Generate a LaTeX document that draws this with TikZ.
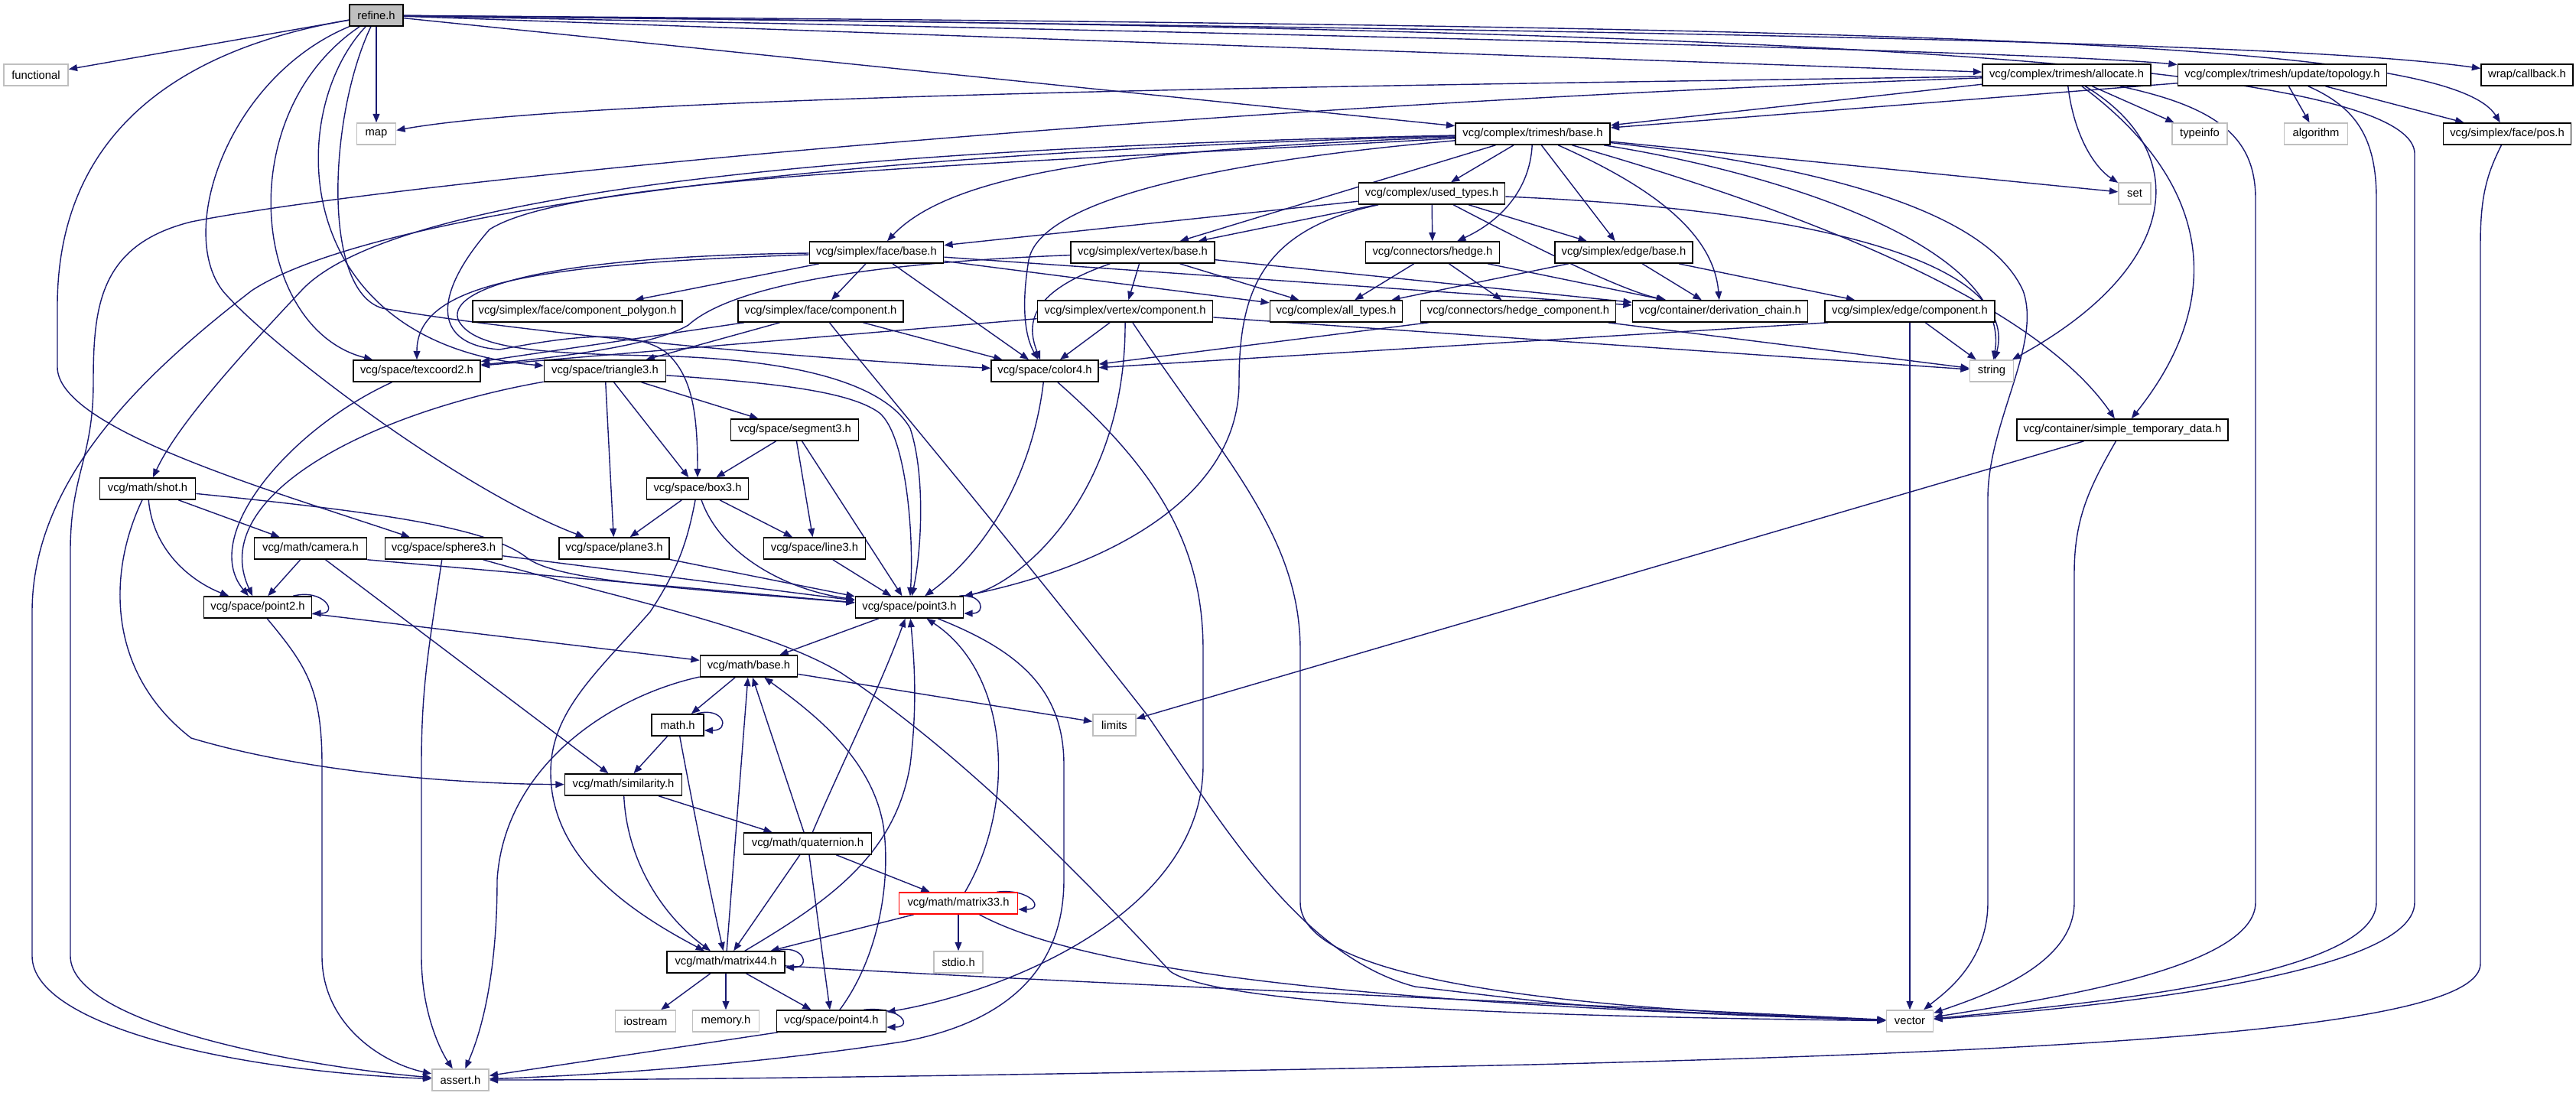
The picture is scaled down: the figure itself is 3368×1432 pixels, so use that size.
\documentclass[tikz,border=0pt]{standalone}
\usepackage{fontspec}
\setmainfont{Liberation Sans}
\usetikzlibrary{arrows.meta}
\pgfdeclarelayer{bg}
\pgfsetlayers{bg,main}
\definecolor{edgec}{HTML}{191970}
\definecolor{grayb}{HTML}{BFBFBF}
\begin{document}
\begin{tikzpicture}[x=0.01cm,y=-0.01cm,
  box/.style={draw=black,line width=0.45pt,rectangle,inner sep=0pt,minimum height=0.28cm,fill=white,font=\fontsize{4.2pt}{5pt}\selectfont},
  sys/.style={box,draw=grayb},
  e/.style={draw=edgec,line width=0.4pt,-{Triangle[length=3.2pt,width=2.5pt]}}]
\useasboundingbox (0,0) rectangle (3368,1432);
% nodes
\node[box,fill=grayb,minimum width=0.70cm] (refine) at (492,20) {refine.h};
\node[sys,minimum width=0.84cm] (functional) at (47,98) {functional};
\node[box,minimum width=2.20cm] (allocate) at (2702,98) {vcg/complex/trimesh/allocate.h};
\node[box,minimum width=2.73cm] (topology) at (2984,98) {vcg/complex/trimesh/update/topology.h};
\node[box,minimum width=1.20cm] (callback) at (3304,98) {wrap/callback.h};
\node[sys,minimum width=0.51cm] (map) at (492,175) {map};
\node[box,minimum width=2.02cm] (tbase) at (2004,175) {vcg/complex/trimesh/base.h};
\node[sys,minimum width=0.72cm] (typeinfo) at (2876,175) {typeinfo};
\node[sys,minimum width=0.83cm] (algorithm) at (3028,175) {algorithm};
\node[box,minimum width=1.67cm] (facepos) at (3278,175) {vcg/simplex/face/pos.h};
\node[box,minimum width=1.91cm] (usedtypes) at (1872,253) {vcg/complex/used\_types.h};
\node[sys,minimum width=0.42cm] (set) at (2791,253) {set};
\node[box,minimum width=1.75cm] (facebase) at (1146,330) {vcg/simplex/face/base.h};
\node[box,minimum width=1.88cm] (vertexbase) at (1494,330) {vcg/simplex/vertex/base.h};
\node[box,minimum width=1.75cm] (hedge) at (1873,330) {vcg/connectors/hedge.h};
\node[box,minimum width=1.80cm] (edgebase) at (2123,330) {vcg/simplex/edge/base.h};
\node[box,minimum width=2.74cm] (comppoly) at (755,407) {vcg/simplex/face/component\_polygon.h};
\node[box,minimum width=2.16cm] (facecomp) at (1073,407) {vcg/simplex/face/component.h};
\node[box,minimum width=2.29cm] (vertexcomp) at (1471,407) {vcg/simplex/vertex/component.h};
\node[box,minimum width=1.73cm] (alltypes) at (1747,407) {vcg/complex/all\_types.h};
\node[box,minimum width=2.55cm] (hedgecomp) at (1985,407) {vcg/connectors/hedge\_component.h};
\node[box,minimum width=2.29cm] (derivchain) at (2249,407) {vcg/container/derivation\_chain.h};
\node[box,minimum width=2.22cm] (edgecomp) at (2497,407) {vcg/simplex/edge/component.h};
\node[box,minimum width=1.66cm] (texcoord) at (545,485) {vcg/space/texcoord2.h};
\node[box,minimum width=1.59cm] (triangle) at (791,485) {vcg/space/triangle3.h};
\node[box,minimum width=1.40cm] (color) at (1366,485) {vcg/space/color4.h};
\node[sys,minimum width=0.57cm] (string) at (2604,485) {string};
\node[box,minimum width=1.67cm] (segment) at (1039,562) {vcg/space/segment3.h};
\node[box,minimum width=2.76cm] (simpletemp) at (2775,562) {vcg/container/simple\_temporary\_data.h};
\node[box,minimum width=1.25cm] (shot) at (193,639) {vcg/math/shot.h};
\node[box,minimum width=1.33cm] (nbox) at (912,639) {vcg/space/box3.h};
\node[box,minimum width=1.47cm] (camera) at (406,717) {vcg/math/camera.h};
\node[box,minimum width=1.53cm] (sphere) at (580,717) {vcg/space/sphere3.h};
\node[box,minimum width=1.44cm] (plane) at (803,717) {vcg/space/plane3.h};
\node[box,minimum width=1.33cm] (nline) at (1065,717) {vcg/space/line3.h};
\node[box,minimum width=1.41cm] (point2) at (337,794) {vcg/space/point2.h};
\node[box,minimum width=1.41cm] (point3) at (1189,794) {vcg/space/point3.h};
\node[box,minimum width=1.27cm] (mathbase) at (979,871) {vcg/math/base.h};
\node[box,minimum width=0.68cm] (mathh) at (886,948) {math.h};
\node[sys,minimum width=0.56cm] (limits) at (1457,948) {limits};
\node[box,minimum width=1.53cm] (similarity) at (815,1026) {vcg/math/similarity.h};
\node[box,minimum width=1.67cm] (quaternion) at (1056,1103) {vcg/math/quaternion.h};
\node[box,draw=red,minimum width=1.55cm] (matrix33) at (1253,1181) {vcg/math/matrix33.h};
\node[sys,minimum width=0.64cm] (stdio) at (1253,1258) {stdio.h};
\node[box,minimum width=1.54cm] (matrix44) at (949,1258) {vcg/math/matrix44.h};
\node[sys,minimum width=0.79cm] (iostream) at (844,1335) {iostream};
\node[sys,minimum width=0.87cm] (memory) at (949,1335) {memory.h};
\node[box,minimum width=1.43cm] (point4) at (1087,1335) {vcg/space/point4.h};
\node[sys,minimum width=0.61cm] (vector) at (2497,1335) {vector};
\node[sys,minimum width=0.74cm] (assert) at (602,1412) {assert.h};
\begin{pgfonlayer}{bg}
% refine.h
\draw[e] (refine) -- (functional);
\draw[e] (refine) -- (map);
\draw[e] (refine) -- (allocate);
\draw[e] (refine) .. controls (2000,50) and (2700,70) .. (topology);
\draw[e] (refine) .. controls (2200,40) and (3000,55) .. (callback);
\draw[e] (refine) .. controls (2500,35) and (3200,50) .. (facepos);
\draw[e] (refine) .. controls (2000,35) and (3150,60) .. (3157,200) -- (3157,1180) .. controls (3157,1280) and (2700,1320) .. (vector);
\draw[e] (refine) -- (tbase);
\draw[e] (refine) .. controls (300,150) and (330,430) .. (texcoord);
\draw[e] (refine) .. controls (370,150) and (380,450) .. (triangle);
\draw[e] (refine) .. controls (430,150) and (420,380) .. (500,403) .. controls (650,430) and (1000,466) .. (color);
\draw[e] (refine) .. controls (300,100) and (230,300) .. (291,380) .. controls (350,450) and (600,640) .. (plane);
\draw[e] (refine) .. controls (200,70) and (75,200) .. (75,400) -- (75,480) .. controls (75,560) and (350,640) .. (sphere);
% allocate.h
\draw[e] (allocate) .. controls (2000,110) and (800,120) .. (map);
\draw[e] (allocate) .. controls (1500,140) and (500,240) .. (250,290) .. controls (130,320) and (122,400) .. (122,500) .. controls (122,600) and (92,620) .. (92,720) -- (92,1250) .. controls (92,1340) and (400,1395) .. (assert);
\draw[e] (allocate) -- (tbase);
\draw[e] (allocate) .. controls (2712,180) and (2740,220) .. (set);
\draw[e] (allocate) .. controls (2870,200) and (2850,350) .. (string);
\draw[e] (allocate) -- (typeinfo);
\draw[e] (allocate) .. controls (2880,230) and (2920,380) .. (simpletemp);
\draw[e] (allocate) .. controls (2900,140) and (2949,180) .. (2949,260) -- (2949,1180) .. controls (2949,1270) and (2650,1310) .. (vector);
% topology.h
\draw[e] (topology) -- (tbase);
\draw[e] (topology) -- (algorithm);
\draw[e] (topology) -- (facepos);
\draw[e] (topology) .. controls (3080,140) and (3107,180) .. (3107,260) -- (3107,1180) .. controls (3107,1280) and (2700,1315) .. (vector);
% face/pos.h
\draw[e] (facepos) .. controls (3250,230) and (3243,260) .. (3243,320) -- (3243,1260) .. controls (3243,1340) and (2800,1372) .. (2000,1392) .. controls (1400,1405) and (900,1412) .. (assert);
% trimesh/base.h
\draw[e] (tbase) .. controls (1500,195) and (1250,220) .. (facebase);
\draw[e] (tbase) .. controls (1300,215) and (750,230) .. (640,300) .. controls (570,380) and (560,450) .. (653,457) .. controls (720,445) and (820,425) .. (870,460) .. controls (905,490) and (912,540) .. (nbox);
\draw[e] (tbase) -- (usedtypes);
\draw[e] (tbase) -- (vertexbase);
\draw[e] (tbase) .. controls (2000,250) and (1960,290) .. (hedge);
\draw[e] (tbase) -- (edgebase);
\draw[e] (tbase) .. controls (2150,240) and (2240,300) .. (derivchain);
\draw[e] (tbase) .. controls (1600,210) and (1360,260) .. (1345,340) .. controls (1335,400) and (1340,440) .. (color);
\draw[e] (tbase) -- (set);
\draw[e] (tbase) .. controls (2400,220) and (2600,280) .. (2645,380) .. controls (2670,450) and (2600,550) .. (2599,650) -- (2599,1180) .. controls (2599,1260) and (2540,1300) .. (vector);
\draw[e] (tbase) .. controls (2350,230) and (2630,330) .. (string);
\draw[e] (tbase) .. controls (2300,260) and (2650,380) .. (simpletemp);
\draw[e] (tbase) .. controls (1000,195) and (500,265) .. (394,380) .. controls (300,480) and (230,560) .. (shot);
\draw[e] (tbase) .. controls (900,205) and (450,300) .. (329,380) .. controls (200,480) and (42,620) .. (42,800) -- (42,1250) .. controls (42,1340) and (300,1400) .. (assert);
% used_types.h
\draw[e] (usedtypes) -- (facebase);
\draw[e] (usedtypes) -- (vertexbase);
\draw[e] (usedtypes) -- (hedge);
\draw[e] (usedtypes) -- (edgebase);
\draw[e] (usedtypes) .. controls (2000,320) and (2120,380) .. (derivchain);
\draw[e] (usedtypes) .. controls (2400,275) and (2640,350) .. (string);
\draw[e] (usedtypes) .. controls (1650,300) and (1620,380) .. (1620,500) .. controls (1620,650) and (1450,740) .. (point3);
% face/base.h
\draw[e] (facebase) .. controls (700,345) and (545,370) .. (texcoord);
\draw[e] (facebase) -- (comppoly);
\draw[e] (facebase) -- (facecomp);
\draw[e] (facebase) -- (color);
\draw[e] (facebase) -- (alltypes);
\draw[e] (facebase) -- (derivchain);
\draw[e] (facebase) .. controls (700,335) and (580,380) .. (600,420) .. controls (620,455) and (700,462) .. (850,465) .. controls (1000,468) and (1150,490) .. (1190,560) .. controls (1210,620) and (1205,720) .. (point3);
% vertex/base.h
\draw[e] (vertexbase) .. controls (1100,345) and (950,380) .. (900,425) .. controls (850,455) and (700,470) .. (texcoord);
\draw[e] (vertexbase) .. controls (1350,380) and (1340,420) .. (color);
\draw[e] (vertexbase) -- (vertexcomp);
\draw[e] (vertexbase) -- (alltypes);
\draw[e] (vertexbase) -- (derivchain);
% hedge.h
\draw[e] (hedge) -- (alltypes);
\draw[e] (hedge) -- (hedgecomp);
\draw[e] (hedge) -- (derivchain);
% edge/base.h
\draw[e] (edgebase) -- (alltypes);
\draw[e] (edgebase) -- (derivchain);
\draw[e] (edgebase) -- (edgecomp);
% face/component.h
\draw[e] (facecomp) -- (texcoord);
\draw[e] (facecomp) -- (triangle);
\draw[e] (facecomp) -- (color);
\draw[e] (facecomp) .. controls (1130,480) and (1300,680) .. (1500,935) .. controls (1600,1080) and (1700,1250) .. (1850,1290) .. controls (2100,1320) .. (vector);
% vertex/component.h
\draw[e] (vertexcomp) -- (texcoord);
\draw[e] (vertexcomp) -- (color);
\draw[e] (vertexcomp) .. controls (1472,650) and (1330,765) .. (point3);
\draw[e] (vertexcomp) .. controls (1600,600) and (1700,700) .. (1700,850) -- (1700,1180) .. controls (1700,1290) and (2100,1320) .. (vector);
\draw[e] (vertexcomp) -- (string);
% hedge_component.h
\draw[e] (hedgecomp) -- (color);
\draw[e] (hedgecomp) -- (string);
% edge/component.h
\draw[e] ([xshift=0.05cm]edgecomp.south west) -- (color);
\draw[e] (edgecomp) -- (string);
\draw[e] (edgecomp) -- (vector);
% texcoord2.h, triangle3.h, segment3.h
\draw[e] (texcoord) .. controls (380,560) and (260,700) .. (point2);
\draw[e] (triangle) .. controls (480,540) and (270,650) .. (point2);
\draw[e] (triangle) -- (segment);
\draw[e] (triangle) -- (nbox);
\draw[e] (triangle) -- (plane);
\draw[e] (triangle) .. controls (1000,500) and (1110,510) .. (1150,540) .. controls (1185,570) and (1195,700) .. (point3);
\draw[e] (segment) -- (nbox);
\draw[e] (segment) -- (nline);
\draw[e] (segment) -- (point3);
% shot.h
\draw[e] (shot) -- (camera);
\draw[e] (shot) .. controls (200,720) and (250,760) .. (point2);
\draw[e] (shot) .. controls (500,670) and (640,690) .. (690,730) .. controls (730,760) and (900,770) .. (point3);
\draw[e] (shot) .. controls (140,750) and (140,880) .. (250,965) .. controls (400,1010) and (600,1025) .. (similarity);
% camera.h
\draw[e] (camera) -- (point2);
\draw[e] (camera) -- (similarity);
\draw[e] (camera.south east) -- (point3);
% sphere3.h
\draw[e] (sphere) -- (point3);
\draw[e] (sphere) .. controls (560,850) and (551,900) .. (551,1000) -- (551,1250) .. controls (551,1330) and (580,1380) .. (assert);
\draw[e] (sphere) .. controls (800,780) and (1000,820) .. (1100,880) .. controls (1250,980) and (1400,1130) .. (1530,1270) .. controls (1600,1320) and (2100,1330) .. (vector);
% plane3.h, box3.h, line3.h
\draw[e] (plane) -- (point3);
\draw[e] (nbox) -- (plane);
\draw[e] (nbox) -- (nline);
\draw[e] (nbox) .. controls (940,720) and (1020,770) .. (point3);
\draw[e] (nbox) .. controls (900,700) and (890,740) .. (850,800) .. controls (780,880) and (720,930) .. (720,1010) .. controls (720,1120) and (820,1190) .. (matrix44);
\draw[e] (nline) -- (point3);
% point2.h
\draw[e] ([xshift=-0.25cm]point2.north east) .. controls +(40,-10) and +(35,0) .. ([yshift=-0.08cm]point2.east);
\draw[e] (point2) -- (mathbase);
\draw[e] (point2) .. controls (400,870) and (421,900) .. (421,1000) -- (421,1250) .. controls (421,1340) and (500,1390) .. (assert);
% point3.h
\draw[e] ([xshift=-0.06cm]point3.north east) .. controls +(30,-4) and +(30,0) .. ([yshift=-0.08cm]point3.east);
\draw[e] (point3) -- (mathbase);
\draw[e] (point3) .. controls (1330,850) and (1391,900) .. (1391,1000) -- (1391,1150) .. controls (1391,1280) and (1300,1340) .. (1180,1362) .. controls (1000,1390) and (800,1405) .. (assert);
% math/base.h
\draw[e] (mathbase) -- (mathh);
\draw[e] (mathbase) -- (limits);
\draw[e] (mathbase) .. controls (800,910) and (660,1000) .. (650,1150) .. controls (650,1300) and (620,1370) .. (assert);
% math.h
\draw[e] ([xshift=-0.1cm]mathh.north east) .. controls +(35,-10) and +(35,0) .. ([yshift=-0.07cm]mathh.east);
\draw[e] (mathh) -- (similarity);
\draw[e] (mathh) .. controls (905,1050) and (925,1150) .. (matrix44);
% similarity.h
\draw[e] (similarity) .. controls (820,1130) and (870,1200) .. (matrix44);
\draw[e] (similarity) -- (quaternion);
% quaternion.h
\draw[e] (quaternion) -- (mathbase);
\draw[e] (quaternion) .. controls (1100,1000) and (1150,900) .. (point3);
\draw[e] (quaternion) -- (matrix44);
\draw[e] (quaternion) -- (point4);
\draw[e] (quaternion) -- (matrix33);
% matrix33.h
\draw[e] ([xshift=-0.28cm]matrix33.north east) .. controls +(45,-5) and +(35,0) .. ([yshift=-0.08cm]matrix33.east);
\draw[e] (matrix33) -- (matrix44);
\draw[e] (matrix33) -- (stdio);
\draw[e] (matrix33) .. controls (1330,1050) and (1320,880) .. (point3);
\draw[e] (matrix33) .. controls (1400,1260) and (1700,1310) .. (vector);
% matrix44.h
\draw[e] ([xshift=-0.12cm]matrix44.north east) .. controls +(35,-10) and +(35,0) .. ([yshift=-0.07cm]matrix44.east);
\draw[e] (matrix44) -- (iostream);
\draw[e] (matrix44) -- (memory);
\draw[e] (matrix44) -- (point4);
\draw[e] (matrix44) -- (mathbase);
\draw[e] (matrix44) .. controls (1080,1180) and (1170,1120) .. (1190,1000) .. controls (1200,920) and (1195,860) .. (point3);
\draw[e] (matrix44) .. controls (1300,1280) and (2000,1310) .. (vector);
% point4.h
\draw[e] ([xshift=-0.3cm]point4.north east) .. controls +(50,-5) and +(35,0) .. ([yshift=-0.08cm]point4.east);
\draw[e] (point4) .. controls (1150,1250) and (1165,1150) .. (1155,1080) .. controls (1140,990) and (1060,930) .. (mathbase);
\draw[e] ([xshift=0.02cm]point4.south west) -- (assert);
% color4.h
\draw[e] (color) .. controls (1350,620) and (1290,720) .. (point3);
\draw[e] (color) .. controls (1520,620) and (1573,720) .. (1573,850) -- (1573,1000) .. controls (1573,1200) and (1300,1300) .. (point4);
% simple_temporary_data.h
\draw[e] (simpletemp) -- (limits);
\draw[e] (simpletemp) .. controls (2730,640) and (2712,680) .. (2712,750) -- (2712,1180) .. controls (2712,1260) and (2600,1300) .. (vector);
\end{pgfonlayer}
\end{tikzpicture}
\end{document}
